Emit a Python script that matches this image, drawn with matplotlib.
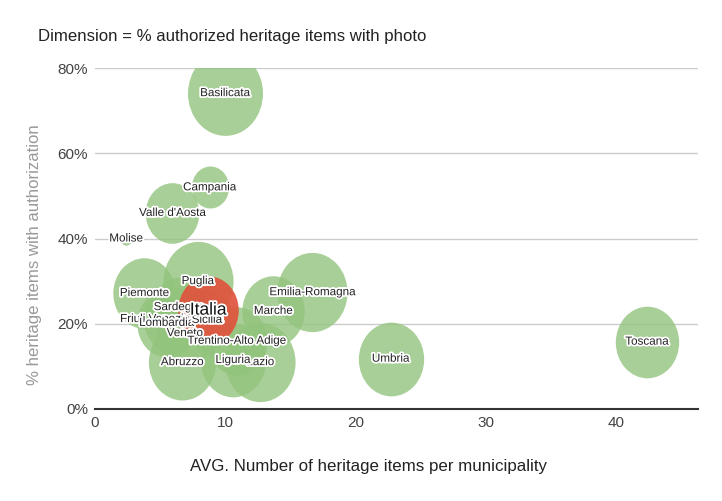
import numpy as np
import matplotlib
matplotlib.use("Agg")
import matplotlib.pyplot as plt
from matplotlib.path import Path
from matplotlib.transforms import Affine2D
import matplotlib.patheffects as pe

plt.rcParams['font.family'] = ['Liberation Sans', 'DejaVu Sans']

# region, avg heritage items per municipality, % with authorization, % authorized with photo
regions = ['Basilicata', 'Toscana', 'Umbria', 'Emilia-Romagna', 'Puglia', 'Lazio',
           'Abruzzo', 'Liguria', 'Marche', 'Piemonte', 'Trentino-Alto Adige',
           'Lombardia', 'Friuli Venezia Giulia', 'Veneto', 'Valle d\'Aosta',
           'Sardegna', 'Sicilia', 'Campania', 'Molise', 'Italia']
avg_items = [10.0, 42.4, 22.7, 16.7, 7.9, 12.7,
             6.7, 10.6, 13.7, 3.8, 10.9,
             5.5, 5.9, 6.9, 5.95,
             6.45, 8.6, 8.8, 2.4, 8.7]
auth_pct = [74.1, 15.8, 11.8, 27.4, 30.0, 11.0,
            11.0, 11.5, 23.0, 27.2, 16.0,
            20.2, 21.1, 17.8, 46.0,
            23.9, 20.9, 52.0, 40.0, 23.2]
photo_pct = [69, 57, 59, 64, 64, 64,
             61, 59, 56, 56, 54,
             54, 51, 51, 47,
             46, 46, 30, 3, 54]

# label draw order (later ones on top)
label_order = ['Basilicata', 'Campania', 'Valle d\'Aosta', 'Molise', 'Puglia',
               'Emilia-Romagna', 'Piemonte', 'Marche', 'Friuli Venezia Giulia',
               'Lombardia', 'Sardegna', 'Sicilia', 'Italia', 'Veneto',
               'Trentino-Alto Adige', 'Abruzzo', 'Lazio', 'Liguria', 'Umbria', 'Toscana']

W, H, DPI = 722, 501, 100
fig = plt.figure(figsize=(W / DPI, H / DPI), dpi=DPI)
ax = fig.add_axes([95 / W, 92 / H, 603 / W, 341 / H])

ASPECT = 1.13
ellipse = Path.unit_circle().transformed(Affine2D().scale(1 / ASPECT, 1))

p = np.array(photo_pct, dtype=float)
w_px = 11 + (p - p.min()) / (p.max() - p.min()) * 64
h_pt = w_px * ASPECT * 72 / DPI

green = '#93c47d'
red = '#e0533d'
for i, name in enumerate(regions):
    italia = name == 'Italia'
    ax.scatter([avg_items[i]], [auth_pct[i]], s=h_pt[i] ** 2, marker=ellipse,
               color=red if italia else green, alpha=0.92 if italia else 0.8,
               linewidths=0, zorder=10 if italia else 2 + i * 0.1)

halo = [pe.withStroke(linewidth=2.6, foreground='white')]
for k, name in enumerate(label_order):
    i = regions.index(name)
    big = name == 'Italia'
    ax.text(avg_items[i], auth_pct[i], name, ha='center', va='center',
            fontsize=12.5 if big else 8.4, color='#111111' if big else '#222222',
            path_effects=halo, zorder=20 + k)

ax.set_xlim(0, 603 / 13.02)
ax.set_ylim(0, 80)
ax.set_xticks([0, 10, 20, 30, 40])
ax.set_yticks([0, 20, 40, 60, 80])
ax.set_yticklabels(['0%', '20%', '40%', '60%', '80%'])
ax.tick_params(length=0, labelsize=11, colors='#444444')
ax.tick_params(axis='y', pad=5)
ax.tick_params(axis='x', pad=5)
ax.grid(axis='y', color='#cccccc', linewidth=1)
ax.set_axisbelow(True)
for s in ['top', 'right', 'left']:
    ax.spines[s].set_visible(False)
ax.spines['bottom'].set_color('#333333')
ax.spines['bottom'].set_linewidth(1.5)

ax.set_xlabel('AVG. Number of heritage items per municipality', fontsize=12.2,
              color='#222222')
ax.xaxis.set_label_coords((368 - 95) / 603, -(467 - 409) / 341)
ax.xaxis.label.set_va('center')
ax.set_ylabel('% heritage items with authorization', fontsize=12.1, color='#999999')
ax.yaxis.set_label_coords(-(95 - 35) / 603, (409 - 255) / 341)
ax.yaxis.label.set_va('center')

fig.text(38 / W, 1 - 36 / H, 'Dimension = % authorized heritage items with photo',
         fontsize=12.1, color='#222222', ha='left', va='center')

fig.savefig('out.png', dpi=DPI)
